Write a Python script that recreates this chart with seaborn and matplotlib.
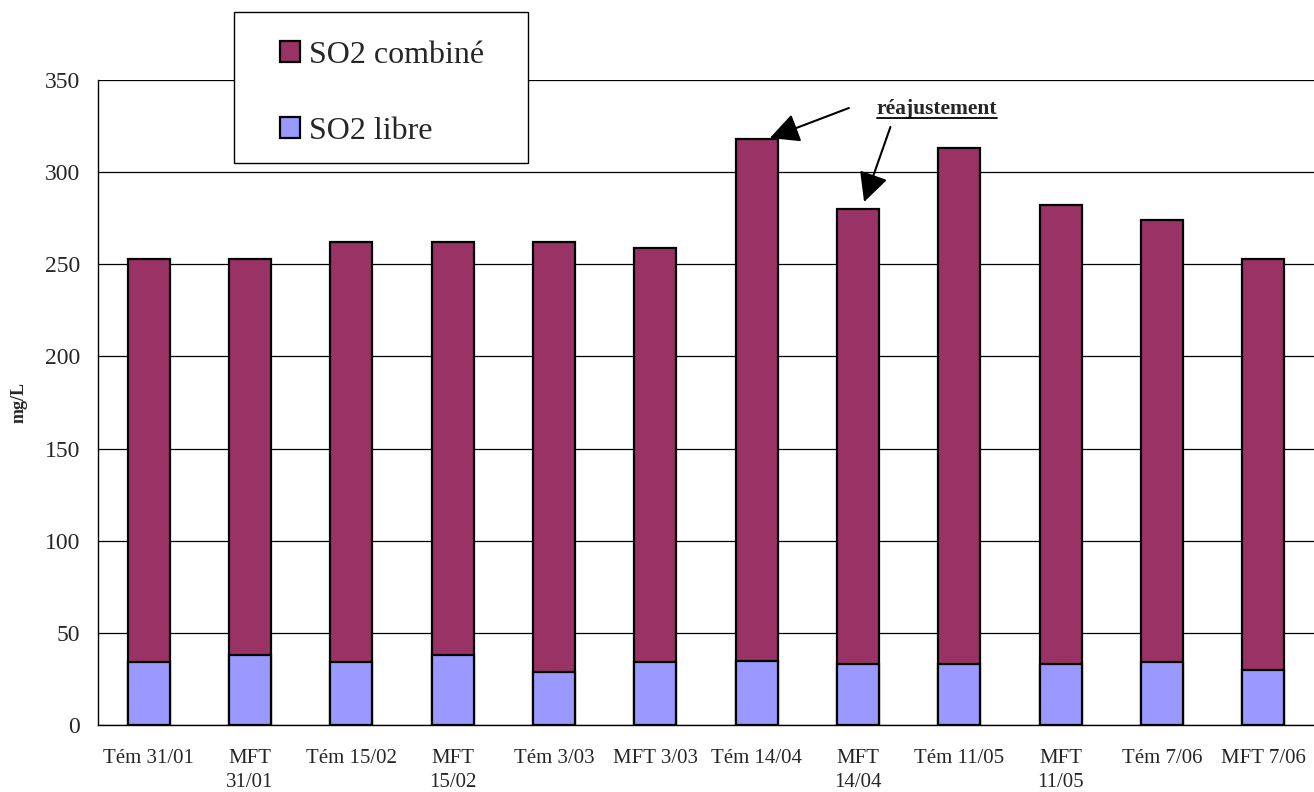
import matplotlib
matplotlib.use("Agg")
import matplotlib.pyplot as plt
from matplotlib.patches import Patch, Rectangle
from matplotlib.lines import Line2D
from matplotlib.transforms import IdentityTransform
import numpy as np
import pandas as pd
import seaborn as sns

# Samples (control "Tém" vs "MFT") at each sampling date
echantillons = ["Tém 31/01", "MFT\n31/01", "Tém 15/02", "MFT\n15/02", "Tém 3/03", "MFT 3/03",
                "Tém 14/04", "MFT\n14/04", "Tém 11/05", "MFT\n11/05", "Tém 7/06", "MFT 7/06"]
# SO2 fractions in mg/L
so2_libre = [34, 38, 34, 38, 29, 34, 35, 33, 33, 33, 34, 30]
so2_combine = [219, 215, 228, 224, 233, 225, 283, 247, 280, 249, 240, 223]

MAROON = "#993366"
LAVENDER = "#9999FF"

df = pd.DataFrame({"echantillon": echantillons,
                   "libre": so2_libre,
                   "combine": so2_combine})
df["total"] = df["libre"] + df["combine"]

sns.set_style("white")
plt.rcParams["font.family"] = ["Liberation Serif", "DejaVu Serif"]

W, H = 1314, 792
fig = plt.figure(figsize=(W / 100, H / 100), dpi=100)
ax = fig.add_axes([98 / W, 1 - 725 / H, (W - 98) / W, (725 - 80) / H])

bar_kw = dict(x="echantillon", saturation=1, width=0.415, edgecolor="black",
              linewidth=1.6, ax=ax, errorbar=None)
# stacked bars: full height in the "combiné" colour, free SO2 drawn over its base
sns.barplot(data=df, y="total", color=MAROON, zorder=2, **bar_kw)
sns.barplot(data=df, y="libre", color=LAVENDER, zorder=3, **bar_kw)

ax.set_xlim(-0.5, 11.45)
ax.set_ylim(0, 350)
ax.set_yticks(np.arange(0, 351, 50))
ax.set_axisbelow(True)
ax.yaxis.grid(True, color="black", linewidth=0.9)
ax.xaxis.grid(False)

for side in ("top", "right"):
    ax.spines[side].set_visible(False)
for side in ("left", "bottom"):
    ax.spines[side].set_color("black")
    ax.spines[side].set_linewidth(1.0)

ax.set_xlabel("")
ax.set_ylabel("mg/L", fontsize=13, fontweight="bold", labelpad=12)
ax.tick_params(axis="y", which="major", direction="out", length=6, width=1,
               color="black", labelsize=17, pad=7)
# category labels centred, tick marks between categories
ax.set_xticks(np.arange(len(echantillons)))
ax.set_xticklabels(echantillons, linespacing=1.35)
ax.set_xticks(np.arange(len(echantillons) + 1) - 0.5, minor=True)
ax.tick_params(axis="x", which="major", length=0, labelsize=15, pad=17)
ax.tick_params(axis="x", which="minor", direction="out", length=6, width=1, color="black")
for lab in ax.get_xticklabels():
    lab.set_verticalalignment("top")

# annotation for the readjustment
arrow = dict(arrowstyle="-|>,head_length=1.0,head_width=0.5", mutation_scale=18,
             color="black", lw=1.5, shrinkA=0, shrinkB=0)
ax.annotate("", xy=(6.13, 318.5), xytext=(6.91, 334.8), arrowprops=arrow, zorder=5)
ax.annotate("", xy=(7.06, 283.8), xytext=(7.32, 324.5), arrowprops=arrow, zorder=5)
txt = ax.text(7.78, 334.5, "réajustement", fontsize=15.5, fontweight="bold",
              ha="center", va="center", zorder=5)

# legend box
box = Rectangle((234 / W, 1 - 163 / H), (528 - 234) / W, (163 - 12) / H,
                transform=fig.transFigure, facecolor="white", edgecolor="black",
                linewidth=1.0, zorder=3)
fig.add_artist(box)
handles = [Patch(facecolor=MAROON, edgecolor="black", linewidth=1.6, label="SO2 combiné"),
           Patch(facecolor=LAVENDER, edgecolor="black", linewidth=1.6, label="SO2 libre")]
fig.legend(handles=handles, loc="upper left", bbox_to_anchor=(280 / W, 1 - 41 / H),
           frameon=False, fontsize=23, borderpad=0, borderaxespad=0,
           handlelength=0.62, handleheight=0.62, handletextpad=0.3, labelspacing=1.46)

# underline under the annotation text
fig.canvas.draw()
bb = txt.get_window_extent()
yc = (bb.y0 + bb.y1) / 2 - 9
fig.add_artist(Line2D([bb.x0, bb.x1], [yc, yc], transform=IdentityTransform(),
                      color="black", linewidth=1.3))

fig.savefig("out.png", dpi=100)
